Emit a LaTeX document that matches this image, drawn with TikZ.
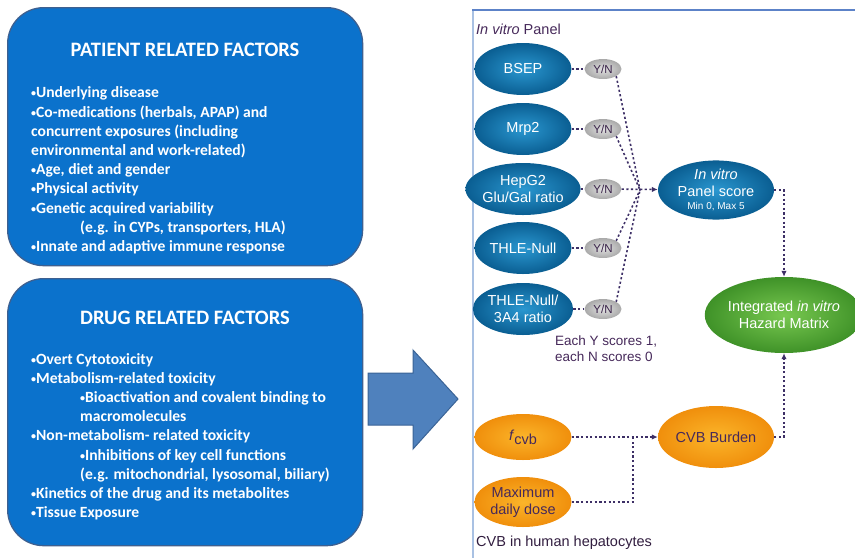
\documentclass[tikz,border=0pt]{standalone}
\usepackage{fontspec}
\setmainfont{Liberation Sans}
\newfontfamily\calibri{Carlito}
\usetikzlibrary{arrows.meta,shapes.geometric,calc}

\definecolor{boxblue}{HTML}{0B72CC}
\definecolor{boxedge}{HTML}{3E6090}
\definecolor{arrowfill}{HTML}{4F81BD}
\definecolor{arrowedge}{HTML}{3A6396}
\definecolor{cellin}{HTML}{2A97D0}
\definecolor{cellout}{HTML}{0A5E92}
\definecolor{ynin}{HTML}{E2E2E2}
\definecolor{ynout}{HTML}{A9A9A9}
\definecolor{scorein}{HTML}{78C850}
\definecolor{scoreout}{HTML}{3F9228}
\definecolor{dosein}{HTML}{FBB52A}
\definecolor{doseout}{HTML}{F08F0C}
\definecolor{linkcol}{HTML}{3D2F66}
\definecolor{inkpurple}{HTML}{46295A}
\definecolor{frametop}{HTML}{5C82C8}
\definecolor{frameleft}{HTML}{A9C1E3}

% small raised bullet used in the factor lists
\newcommand\listdot{{\fontsize{10}{10}\selectfont\raisebox{1pt}{•}}}

\tikzset{
  factorbox/.style={draw=boxedge, line width=1.3pt, fill=boxblue,
    rounded corners=36pt, minimum width=355pt, inner sep=0pt, anchor=north west},
  boxtitle/.style={text=white, font=\calibri\bfseries\fontsize{20.5}{22}\selectfont, inner sep=0pt},
  boxline/.style={text=white, font=\calibri\bfseries\fontsize{15.6}{18}\selectfont,
    inner sep=0pt, anchor=base west},
  cell/.style={ellipse, inner sep=0pt, align=center,
    font=\fontsize{14.5}{16.5}\selectfont},
  bluecell/.style={cell, inner color=cellin, outer color=cellout, text=white,
    minimum width=97pt, minimum height=52pt},
  ynbox/.style={ellipse, inner sep=0pt, inner color=ynin, outer color=ynout,
    text=inkpurple!80!black, minimum width=37pt, minimum height=20pt,
    font=\fontsize{11.5}{12}\selectfont},
  greencell/.style={cell, inner color=scorein, outer color=scoreout, text=white},
  orangecell/.style={cell, inner color=dosein, outer color=doseout, text=inkpurple},
  link/.style={draw=linkcol, line width=1.6pt, dash pattern=on 2.2pt off 2.4pt},
  linkarrow/.style={link, -{Latex[length=6pt,width=5.5pt]}},
  plain/.style={inner sep=0pt, text=inkpurple, font=\fontsize{14.5}{16.5}\selectfont}
}

\begin{document}
\begin{tikzpicture}[x=1pt,y=-1pt]
\useasboundingbox (0,0) rectangle (855,558);

% ---------------- patient related factors ----------------
\node[factorbox, minimum height=258pt] (patient) at (7,7) {};
\node[boxtitle] (ptitle) at (185,50) {PATIENT RELATED FACTORS};
\node[boxline] (p1) at (31,97)  {\listdot Underlying disease};
\node[boxline] (p2) at (31,117) {\listdot Co-medications (herbals, APAP) and};
\node[boxline] (p3) at (31,136) {concurrent exposures (including};
\node[boxline] (p4) at (31,155) {environmental and work-related)};
\node[boxline] (p5) at (31,174) {\listdot Age, diet and gender};
\node[boxline] (p6) at (31,193) {\listdot Physical activity};
\node[boxline] (p7) at (31,213) {\listdot Genetic acquired variability};
\node[boxline] (p8) at (80,232) {(e.g. in CYPs, transporters, HLA)};
\node[boxline] (p9) at (31,251) {\listdot Innate and adaptive immune response};

% ---------------- drug related factors ----------------
\node[factorbox, minimum height=267pt] (drug) at (7,278) {};
\node[boxtitle] (dtitle) at (185,318) {DRUG RELATED FACTORS};
\node[boxline] (d1) at (31,364) {\listdot Overt Cytotoxicity};
\node[boxline] (d2) at (31,383) {\listdot Metabolism-related toxicity};
\node[boxline] (d3) at (80,402) {\listdot Bioactivation and covalent binding to};
\node[boxline] (d4) at (80,421) {macromolecules};
\node[boxline] (d5) at (31,440) {\listdot Non-metabolism- related toxicity};
\node[boxline] (d6) at (80,460) {\listdot Inhibitions of key cell functions};
\node[boxline] (d7) at (80,479) {(e.g. mitochondrial, lysosomal, biliary)};
\node[boxline] (d8) at (31,498) {\listdot Kinetics of the drug and its metabolites};
\node[boxline] (d9) at (31,517) {\listdot Tissue Exposure};

% ---------------- block arrow ----------------
\draw[fill=arrowfill, draw=arrowedge, line width=1pt, line join=miter]
  (368,373) -- (413,373) -- (413,350) -- (458,399) -- (413,449) -- (413,425) -- (368,425) -- cycle;

% ---------------- panel frame ----------------
\draw[frameleft, line width=1.5pt] (473,10) -- (473,558);
\draw[frametop, line width=1.5pt] (472.25,10) -- (855,10);

\node[plain, anchor=west] (paneltitle) at (476,29) {\textit{In vitro} Panel};

% in vitro assays
\node[bluecell] (bsep) at (523,69)  {BSEP};
\node[bluecell] (mrp)  at (523,129) {Mrp2};
\node[bluecell] (hep)  at (523,189) {HepG2\\Glu/Gal ratio};
\node[bluecell] (thle) at (523,248) {THLE-Null};
\node[bluecell] (tha)  at (523,309) {THLE-Null/\\3A4 ratio};

\node[ynbox] (yn1) at (603,69)  {Y/N};
\node[ynbox] (yn2) at (603,129) {Y/N};
\node[ynbox] (yn3) at (603,189) {Y/N};
\node[ynbox] (yn4) at (603,248) {Y/N};
\node[ynbox] (yn5) at (603,309) {Y/N};

\node[plain, anchor=north west, align=left, font=\fontsize{13.5}{16}\selectfont]
  (scorenote) at (555,336) {Each Y scores 1,\\each N scores 0};

\node[bluecell, minimum width=116pt, minimum height=57pt] (score) at (716,190)
  {\textit{In vitro}\\Panel score\\[-3pt]{\fontsize{10}{11}\selectfont Min 0, Max 5}};

\node[greencell, minimum width=134pt, minimum height=76pt] (integ) at (784,315)
  {Integrated \textit{in vitro}\\Hazard Matrix};

% CVB burden
\node[orangecell, minimum width=97pt, minimum height=46pt] (fcvb) at (523,437)
  {\textit{f}\raisebox{-4pt}{cvb}};
\node[orangecell, minimum width=97pt, minimum height=50pt] (dose) at (523,502)
  {Maximum\\daily dose};
\node[orangecell, minimum width=116pt, minimum height=62pt] (cvb) at (716,437)
  {CVB Burden};

\node[plain, anchor=west, text=inkpurple!70!black] (cvbtitle) at (476,543)
  {CVB in human hepatocytes};

% ---------------- connectors ----------------
\coordinate (J) at (640,190);
\coordinate (K) at (633,437);

\draw[link] (bsep) -- (yn1);
\draw[link] (mrp) -- (yn2);
\draw[link] (hep) -- (yn3);
\draw[link] (thle) -- (yn4);
\draw[link] (tha) -- (yn5);

\draw[link] (yn1.south east) -- (J);
\draw[link] (yn2.south east) -- (J);
\draw[link] (yn4.north east) -- (J);
\draw[link] (yn5.north east) -- (J);
\draw[linkarrow] (yn3) -- (score);

\draw[linkarrow] (score.east) -| (integ.north);
\draw[linkarrow] (cvb.east) -| (integ.south);

\draw[linkarrow] (fcvb) -- (cvb);
\draw[link] (dose) -| (K);

\end{tikzpicture}
\end{document}
